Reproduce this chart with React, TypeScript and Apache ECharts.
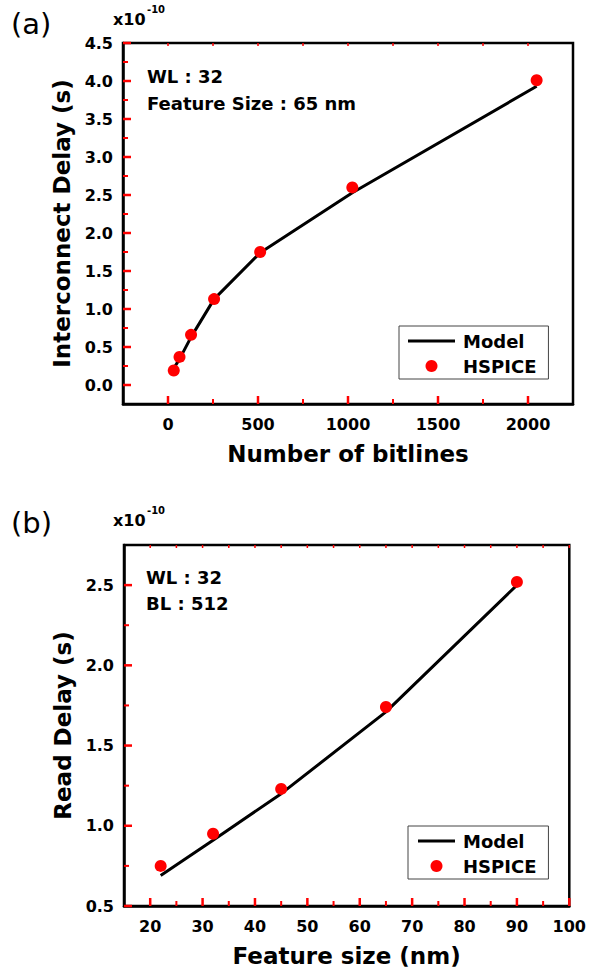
import React, { useEffect, useRef } from "react";
import * as echarts from "echarts";

// ---------- data ----------
const aBitlines = [32, 64, 128, 256, 512, 1024, 2048];
const aModel = [0.22, 0.34, 0.63, 1.13, 1.74, 2.53, 3.93];
const aHspice = [0.19, 0.37, 0.66, 1.13, 1.75, 2.6, 4.01];

const bFeature = [22, 32, 45, 65, 90];
const bModel = [0.69, 0.91, 1.2, 1.71, 2.5];
const bHspice = [0.75, 0.95, 1.23, 1.74, 2.52];

// tick labels / major ticks
const aXTicks = [0, 500, 1000, 1500, 2000];
const aYTicks = [0, 0.5, 1, 1.5, 2, 2.5, 3, 3.5, 4, 4.5];
const bXTicks = [20, 30, 40, 50, 60, 70, 80, 90, 100];
const bYTicks = [0.5, 1, 1.5, 2, 2.5];
// minor ticks
const aXMinor = [250, 750, 1250, 1750];
const aYMinor = [0.25, 0.75, 1.25, 1.75, 2.25, 2.75, 3.25, 3.75, 4.25];
const bXMinor = [25, 35, 45, 55, 65, 75, 85, 95];
const bYMinor = [0.75, 1.25, 1.75, 2.25];

const FONT = "DejaVu Sans";
const TICK_COLOR = "#ff0000";

function pairs(xs: number[], ys: number[]) {
  return xs.map((x, i) => [x, ys[i]]);
}

const labelStyle = { fontFamily: FONT, fontWeight: "bold", fontSize: 16, color: "#000" };
const nameStyle = { fontFamily: FONT, fontWeight: "bold", fontSize: 23, color: "#000" };

function fmtFor(list: number[], digits: number) {
  return (v: number) => (list.some((t) => Math.abs(t - v) < 1e-6) ? v.toFixed(digits) : "");
}

function mainAxis(o: any) {
  const isX = o.dim === "x";
  const ax: any = {
    type: "value",
    gridIndex: o.grid,
    position: isX ? "bottom" : "left",
    min: o.min,
    max: o.max,
    name: o.name,
    nameLocation: "middle",
    nameGap: o.nameGap,
    nameRotate: isX ? 0 : 90,
    nameTextStyle: nameStyle,
    axisLine: { show: true, onZero: false, lineStyle: { color: "#000", width: 2.5 } },
    axisTick: { show: false },
    axisLabel: {
      show: true,
      margin: isX ? 12 : 10,
      formatter: fmtFor(o.ticks, o.digits),
      ...labelStyle,
    },
    splitLine: { show: false },
  };
  if (o.interval !== undefined) ax.interval = o.interval;
  if (o.splitNumber !== undefined) ax.splitNumber = o.splitNumber;
  return ax;
}

// tick marks drawn through the axes' own scales
function tickSeries(axisIndex: number, side: string, values: number[], ref: number, len: number, width: number) {
  const horizontal = side === "bottom" || side === "top";
  return {
    name: "ticks",
    type: "custom",
    xAxisIndex: axisIndex,
    yAxisIndex: axisIndex,
    silent: true,
    clip: false,
    z: 6,
    data: values.map((v) => (horizontal ? [v, ref] : [ref, v])),
    renderItem: (params: any, api: any) => {
      const cs = params.coordSys;
      const p = api.coord([api.value(0), api.value(1)]);
      let shape: any;
      if (side === "bottom") {
        const y = cs.y + cs.height;
        shape = { x1: p[0], y1: y, x2: p[0], y2: y - len };
      } else if (side === "top") {
        shape = { x1: p[0], y1: cs.y, x2: p[0], y2: cs.y + len };
      } else {
        shape = { x1: cs.x, y1: p[1], x2: cs.x + len, y2: p[1] };
      }
      return { type: "line", shape, style: { stroke: TICK_COLOR, lineWidth: width } };
    },
  };
}

const txt = (text: string, x: number, y: number, fontSize: number, bold: boolean, va: string = "middle") => ({
  type: "text",
  x,
  y,
  style: {
    text,
    fontFamily: FONT,
    fontWeight: bold ? "bold" : "normal",
    fontSize,
    fill: "#000",
    textAlign: "left",
    textVerticalAlign: va,
    verticalAlign: va,
  },
});

export default function App() {
  const ref = useRef<HTMLDivElement>(null);
  useEffect(() => {
    if (!ref.current) return;
    const chart = echarts.init(ref.current, null, { renderer: "svg" });

    const A = { xMin: -250, xMax: 2250, yMin: -0.25, yMax: 4.5 };
    const B = { xMin: 15, xMax: 100, yMin: 0.5, yMax: 2.75 };

    const xAxis = [
      mainAxis({ dim: "x", grid: 0, min: A.xMin, max: A.xMax, splitNumber: 5, ticks: aXTicks, digits: 0, name: "Number of bitlines", nameGap: 38 }),
      mainAxis({ dim: "x", grid: 1, min: B.xMin, max: B.xMax, splitNumber: 9, ticks: bXTicks, digits: 0, name: "Feature size (nm)", nameGap: 38 }),
    ];
    const yAxis = [
      mainAxis({ dim: "y", grid: 0, min: A.yMin, max: A.yMax, splitNumber: 10, ticks: aYTicks, digits: 1, name: "Interconnect Delay (s)", nameGap: 48 }),
      mainAxis({ dim: "y", grid: 1, min: B.yMin, max: B.yMax, interval: 0.5, ticks: bYTicks, digits: 1, name: "Read Delay (s)", nameGap: 48 }),
    ];

    const legendText = { fontFamily: FONT, fontWeight: "bold", fontSize: 18, color: "#000", padding: [0, 0, 0, 3] };

    chart.setOption({
      animation: false,
      backgroundColor: "#fff",
      grid: [
        { left: 123, top: 43, width: 450, height: 361, show: true, borderColor: "#000", borderWidth: 2.5, backgroundColor: "transparent" },
        { left: 124, top: 545, width: 449, height: 361, show: true, borderColor: "#000", borderWidth: 2.5, backgroundColor: "transparent" },
      ],
      xAxis,
      yAxis,
      legend: [
        {
          left: 399,
          top: 326,
          orient: "vertical",
          padding: [6, 12, 4, 9],
          itemGap: 7,
          itemWidth: 47,
          itemHeight: 12,
          borderColor: "#444",
          borderWidth: 1,
          borderRadius: 0,
          textStyle: legendText,
          data: [
            { name: "Model", icon: "path://M0,0H47V3H0Z" },
            { name: "HSPICE", icon: "circle" },
          ],
        },
        {
          left: 408,
          top: 826,
          orient: "vertical",
          padding: [6, 12, 4, 10],
          itemGap: 7,
          itemWidth: 37,
          itemHeight: 12,
          borderColor: "#444",
          borderWidth: 1,
          borderRadius: 0,
          textStyle: legendText,
          data: [
            { name: "Model", icon: "path://M0,0H37V3H0Z" },
            { name: "HSPICE", icon: "circle" },
          ],
        },
      ],
      series: [
        {
          name: "Model",
          type: "line",
          xAxisIndex: 0,
          yAxisIndex: 0,
          data: pairs(aBitlines, aModel),
          showSymbol: false,
          symbol: "none",
          lineStyle: { color: "#000", width: 3 },
          itemStyle: { color: "#000" },
          z: 2,
        },
        {
          name: "HSPICE",
          type: "scatter",
          xAxisIndex: 0,
          yAxisIndex: 0,
          data: pairs(aBitlines, aHspice),
          symbol: "circle",
          symbolSize: 12,
          itemStyle: { color: "#ff0000", opacity: 1 },
          z: 3,
        },
        {
          name: "Model",
          type: "line",
          xAxisIndex: 1,
          yAxisIndex: 1,
          data: pairs(bFeature, bModel),
          showSymbol: false,
          symbol: "none",
          lineStyle: { color: "#000", width: 3 },
          itemStyle: { color: "#000" },
          z: 2,
        },
        {
          name: "HSPICE",
          type: "scatter",
          xAxisIndex: 1,
          yAxisIndex: 1,
          data: pairs(bFeature, bHspice),
          symbol: "circle",
          symbolSize: 12,
          itemStyle: { color: "#ff0000", opacity: 1 },
          z: 3,
        },
        // ticks, chart (a)
        tickSeries(0, "bottom", aXTicks, A.yMin, 8, 2.5),
        tickSeries(0, "bottom", aXMinor, A.yMin, 5, 2),
        tickSeries(0, "top", [...aXTicks, ...aXMinor], A.yMin, 3, 1.5),
        tickSeries(0, "left", aYTicks, A.xMin, 8, 2.5),
        tickSeries(0, "left", aYMinor, A.xMin, 5, 2),
        // ticks, chart (b)
        tickSeries(1, "bottom", bXTicks, B.yMin, 8, 2.5),
        tickSeries(1, "bottom", bXMinor, B.yMin, 5, 2),
        tickSeries(1, "top", [...bXTicks, ...bXMinor], B.yMin, 3, 1.5),
        tickSeries(1, "left", bYTicks, B.xMin, 8, 2.5),
        tickSeries(1, "left", bYMinor, B.xMin, 5, 2),
      ],
      graphic: [
        txt("(a)", 11, 24, 29, false),
        txt("x10", 113, 27, 16, true, "bottom"),
        txt("-10", 147, 4, 10, true, "top"),
        txt("WL : 32", 147, 76, 18, true),
        txt("Feature Size : 65 nm", 147, 103, 18, true),
        txt("(b)", 11, 523, 29, false),
        txt("x10", 113, 528, 16, true, "bottom"),
        txt("-10", 147, 505, 10, true, "top"),
        txt("WL : 32", 146, 577, 18, true),
        txt("BL : 512", 146, 603, 18, true),
      ],
    });
    return () => chart.dispose();
  }, []);
  return (
    <div
      ref={ref}
      style={{ position: "absolute", left: 0, top: 0, width: 589, height: 975, background: "#fff" }}
    />
  );
}
